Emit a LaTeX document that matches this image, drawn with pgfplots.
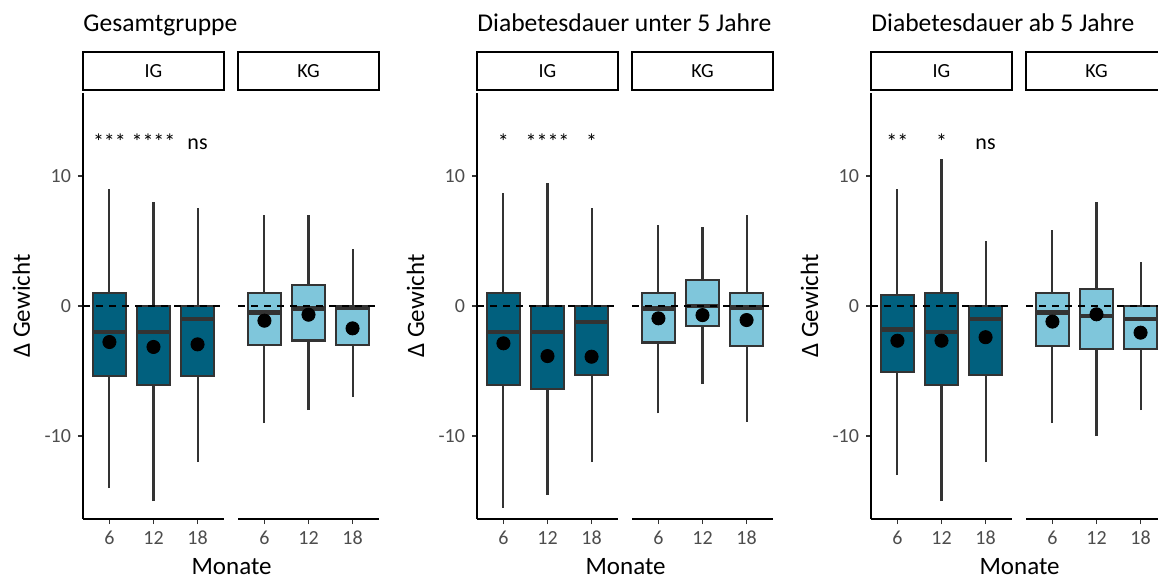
\documentclass[border=0pt]{standalone}
\usepackage{fontspec}
\setmainfont{Carlito}
\usepackage{pgfplots}
\pgfplotsset{compat=1.18}
\usepgfplotslibrary{statistics}
\definecolor{igcol}{HTML}{01607E}
\definecolor{kgcol}{HTML}{7FC6DB}
\definecolor{boxline}{HTML}{333333}
\definecolor{gray30}{HTML}{4D4D4D}

\pgfplotsset{
  boxplot/draw/lower whisker/.code={},
  boxplot/draw/upper whisker/.code={},
}

\newcommand{\bx}[7]{\addplot[draw=boxline, line width=1.05pt, mark=none, line cap=butt] coordinates {(#1,#2) (#1,#6)};
\addplot[boxplot/draw direction=y, boxplot prepared={draw position=#1, lower whisker=#2, lower quartile=#3, median=#4, upper quartile=#5, upper whisker=#6, box extend=0.75, whisker extend=0, every median/.style={line width=2.2pt, draw=boxline}, every box/.style={line width=1.1pt, draw=boxline, fill=#7}}, fill=#7, draw=boxline, line width=1.1pt, mark=none] coordinates {};}
\newcommand{\hzero}{\addplot[black, line width=0.7pt, dash pattern=on 3.5pt off 3pt] coordinates {(0.4,0) (3.6,0)};}
\newcommand{\means}[3]{\addplot[only marks, mark=*, mark size=3.3pt, black] coordinates {(1,#1) (2,#2) (3,#3)};}
\newcommand{\sig}[3]{\addplot[draw=none, mark=none, nodes near coords, point meta=explicit symbolic, every node near coord/.append style={anchor=base, text=black, font=\fontsize{11}{13}\selectfont, inner sep=0pt}] coordinates {(1,12) [#1] (2,12) [#2] (3,12) [#3]};}

\pgfplotsset{facet/.style={scale only axis, width=70.5pt, height=213pt,
  xmin=0.4, xmax=3.6, ymin=-16.38, ymax=16.38,
  xtick={1,2,3}, xticklabels={6,12,18},
  tick align=outside, major tick length=2.5pt,
  tick style={line width=0.6pt, color=boxline},
  axis line style={line width=0.9pt, black},
  ticklabel style={font=\fontsize{10}{12}\selectfont, text=gray30},
  anchor=south west, axis x line*=bottom, boxplot/draw direction=y},
  igfacet/.style={facet, axis y line*=left, ytick={-10,0,10}, yticklabels={-10,0,10}},
  kgfacet/.style={facet, axis y line=none, ytick=\empty}}

\newcommand{\strip}[2]{\draw[line width=1.1pt, black, fill=white] (#1,244.5pt) rectangle ++(70.5pt,19pt); \node[font=\fontsize{10}{12}\selectfont, anchor=center] at ([xshift=35.25pt]#1,254pt) {#2};}

\begin{document}
\begin{tikzpicture}
\useasboundingbox (0,0) rectangle (579pt,289.5pt);
\clip (0,0) rectangle (579pt,289.5pt);

% ---------- Panel 1: Gesamtgruppe ----------
\begin{axis}[igfacet, at={(41.5pt,30pt)}]
\bx{1}{-14}{-5.4}{-2}{1}{9}{igcol}
\bx{2}{-15}{-6.05}{-2}{0}{8}{igcol}
\bx{3}{-12}{-5.4}{-1}{0}{7.5}{igcol}
\hzero
\means{-2.77}{-3.15}{-2.95}
\sig{***}{****}{ns}
\end{axis}
\begin{axis}[kgfacet, at={(119pt,30pt)}]
\bx{1}{-9}{-3}{-0.5}{1}{7}{kgcol}
\bx{2}{-8}{-2.65}{-0.2}{1.6}{7}{kgcol}
\bx{3}{-7}{-3}{-0.15}{0}{4.4}{kgcol}
\hzero
\means{-1.13}{-0.67}{-1.72}
\end{axis}

% ---------- Panel 2: unter 5 Jahre ----------
\begin{axis}[igfacet, at={(238.5pt,30pt)}]
\bx{1}{-15.5}{-6.05}{-2}{1}{8.7}{igcol}
\bx{2}{-14.5}{-6.4}{-2}{0}{9.45}{igcol}
\bx{3}{-12}{-5.3}{-1.25}{0}{7.5}{igcol}
\hzero
\means{-2.87}{-3.85}{-3.9}
\sig{*}{****}{*}
\end{axis}
\begin{axis}[kgfacet, at={(316pt,30pt)}]
\bx{1}{-8.25}{-2.8}{-0.2}{1}{6.25}{kgcol}
\bx{2}{-6}{-1.55}{0}{2}{6.05}{kgcol}
\bx{3}{-8.9}{-3.05}{-0.1}{1}{7}{kgcol}
\hzero
\means{-0.95}{-0.7}{-1.08}
\end{axis}

% ---------- Panel 3: ab 5 Jahre ----------
\begin{axis}[igfacet, at={(435.5pt,30pt)}]
\bx{1}{-13}{-5.05}{-1.8}{0.85}{9}{igcol}
\bx{2}{-15}{-6.05}{-2}{1}{11.3}{igcol}
\bx{3}{-12}{-5.3}{-1}{0}{5}{igcol}
\hzero
\means{-2.67}{-2.67}{-2.4}
\sig{**}{*}{ns}
\end{axis}
\begin{axis}[kgfacet, at={(513pt,30pt)}]
\bx{1}{-9}{-3.05}{-0.5}{1}{5.85}{kgcol}
\bx{2}{-10}{-3.3}{-0.75}{1.3}{8}{kgcol}
\bx{3}{-8}{-3.3}{-1}{0}{3.4}{kgcol}
\hzero
\means{-1.2}{-0.64}{-2.05}
\end{axis}

% strips
\strip{41.5pt}{IG}
\strip{119pt}{KG}
\strip{238.5pt}{IG}
\strip{316pt}{KG}
\strip{435.5pt}{IG}
\strip{513pt}{KG}

% titles
\node[anchor=base west, inner sep=0pt, font=\fontsize{12.8}{15}\selectfont] at (41.5pt,273.5pt) {Gesamtgruppe};
\node[anchor=base west, inner sep=0pt, font=\fontsize{12.8}{15}\selectfont] at (238.5pt,273.5pt) {Diabetesdauer unter 5 Jahre};
\node[anchor=base west, inner sep=0pt, font=\fontsize{12.8}{15}\selectfont] at (435.5pt,273.5pt) {Diabetesdauer ab 5 Jahre};

% axis titles
\foreach \dx in {0,197,394}{
  \node[anchor=base, inner sep=0pt, font=\fontsize{12.5}{15}\selectfont] at (115.8pt+\dx pt,2pt) {Monate};
  \node[anchor=base, rotate=90, inner sep=0pt, font=\fontsize{12.5}{15}\selectfont] at (15pt+\dx pt,136.5pt) {Δ Gewicht};
}
\end{tikzpicture}
\end{document}
